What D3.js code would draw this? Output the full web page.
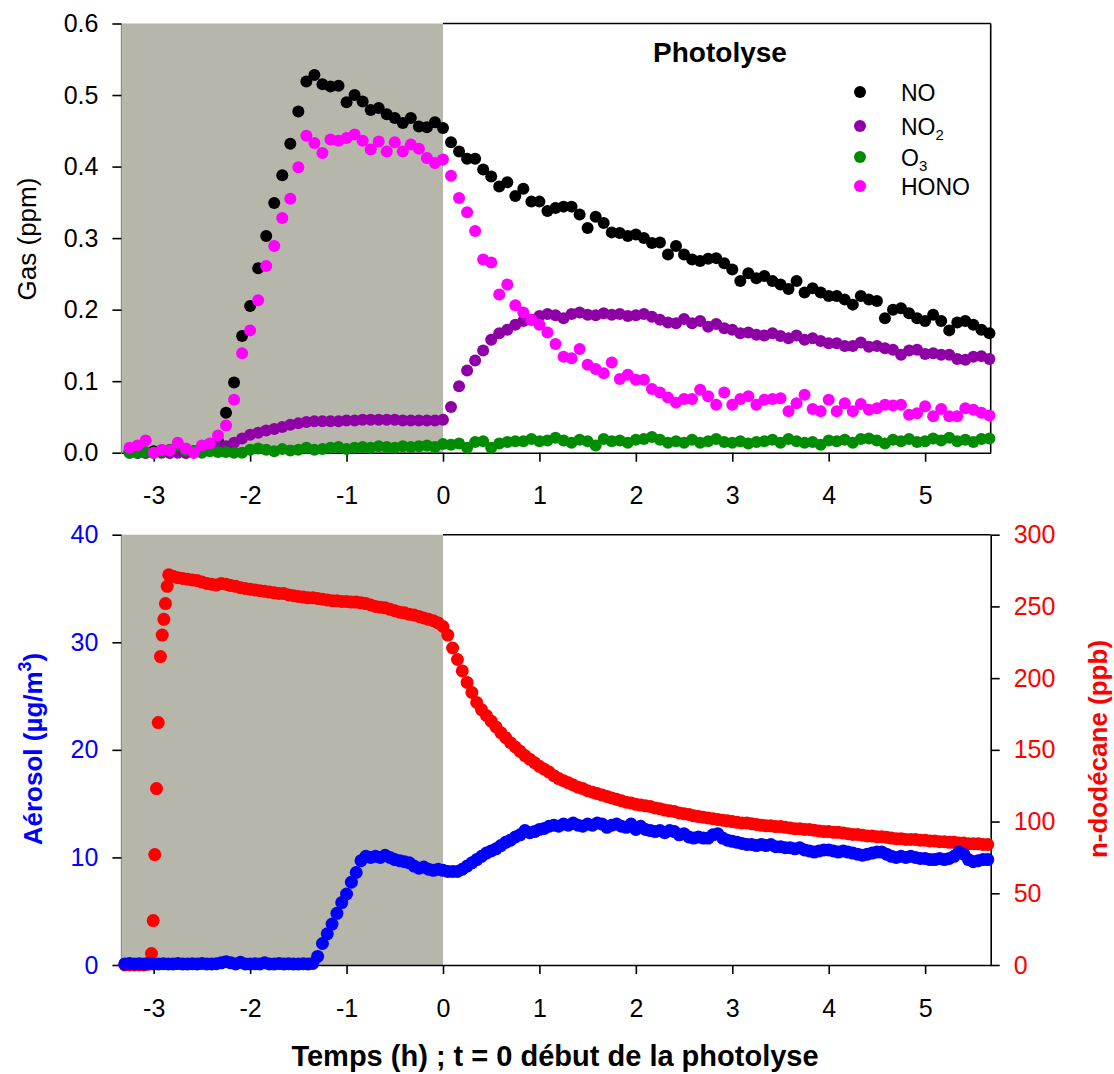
<!DOCTYPE html>
<html>
<head>
<meta charset="utf-8">
<script src="https://cdn.jsdelivr.net/npm/d3@7"></script>
<style>
  body { margin: 0; background: #fff; }
  text { font-family: "Liberation Sans", Arial, Helvetica, sans-serif; }
</style>
</head>
<body>
<svg id="chart" width="1114" height="1074"></svg>
<script>
// ---- gas data: one sample every 5 min, starting at t = -3.25 h ----
var gasStart = -39 / 12;
var gasStep = 1 / 12;

var noValues = [
  0.002, 0.0, 0.0, 0.002, 0.001, 0.0, 0.001, 0.0, 0.002, 0.003,
  0.005, 0.016, 0.056, 0.098, 0.163, 0.205, 0.258, 0.303, 0.349, 0.388,
  0.432, 0.477, 0.519, 0.528, 0.515, 0.512, 0.513, 0.490, 0.500, 0.491,
  0.479, 0.482, 0.473, 0.468, 0.461, 0.468, 0.456, 0.455, 0.462, 0.454,
  0.434, 0.421, 0.411, 0.411, 0.396, 0.386, 0.372, 0.378, 0.359, 0.369,
  0.351, 0.351, 0.338, 0.342, 0.344, 0.344, 0.333, 0.314, 0.330, 0.321,
  0.308, 0.307, 0.303, 0.305, 0.300, 0.293, 0.294, 0.277, 0.289, 0.277,
  0.270, 0.268, 0.271, 0.272, 0.265, 0.256, 0.240, 0.251, 0.244, 0.247,
  0.240, 0.235, 0.229, 0.240, 0.224, 0.230, 0.224, 0.219, 0.219, 0.214,
  0.207, 0.219, 0.214, 0.212, 0.188, 0.200, 0.202, 0.195, 0.188, 0.184,
  0.193, 0.184, 0.171, 0.182, 0.184, 0.179, 0.172, 0.167
];

var no2Values = [
  0.0, 0.0, 0.0, 0.0, 0.0, 0.0, 0.0, 0.0, 0.0, 0.001,
  0.003, 0.007, 0.009, 0.014, 0.020, 0.025, 0.028, 0.031, 0.033, 0.036,
  0.039, 0.041, 0.043, 0.044, 0.044, 0.044, 0.044, 0.045, 0.045, 0.046,
  0.046, 0.046, 0.046, 0.046, 0.045, 0.045, 0.045, 0.045, 0.045, 0.046,
  0.064, 0.093, 0.115, 0.129, 0.143, 0.158, 0.167, 0.172, 0.179, 0.184,
  0.186, 0.191, 0.194, 0.192, 0.188, 0.194, 0.196, 0.193, 0.192, 0.195,
  0.193, 0.194, 0.191, 0.192, 0.194, 0.190, 0.186, 0.182, 0.181, 0.187,
  0.181, 0.184, 0.176, 0.180, 0.174, 0.172, 0.167, 0.168, 0.165, 0.164,
  0.167, 0.163, 0.160, 0.164, 0.158, 0.160, 0.156, 0.153, 0.153, 0.149,
  0.149, 0.154, 0.148, 0.149, 0.146, 0.144, 0.137, 0.143, 0.144, 0.138,
  0.139, 0.137, 0.137, 0.131, 0.130, 0.134, 0.135, 0.131
];

var o3Values = [
  0.0, 0.0, 0.001, 0.0, 0.002, 0.004, 0.010, 0.003, 0.002, 0.0,
  0.002, 0.001, 0.001, 0.0, 0.0, 0.004, 0.006, 0.004, 0.002, 0.005,
  0.003, 0.004, 0.007, 0.004, 0.005, 0.007, 0.008, 0.005, 0.007, 0.008,
  0.007, 0.009, 0.008, 0.007, 0.009, 0.008, 0.009, 0.010, 0.008, 0.012,
  0.011, 0.013, 0.007, 0.015, 0.016, 0.007, 0.013, 0.015, 0.016, 0.016,
  0.019, 0.016, 0.017, 0.021, 0.017, 0.014, 0.018, 0.016, 0.010, 0.019,
  0.016, 0.017, 0.014, 0.018, 0.019, 0.022, 0.018, 0.014, 0.016, 0.014,
  0.018, 0.014, 0.016, 0.019, 0.015, 0.014, 0.016, 0.013, 0.015, 0.016,
  0.018, 0.014, 0.019, 0.016, 0.014, 0.015, 0.011, 0.017, 0.016, 0.018,
  0.014, 0.019, 0.020, 0.017, 0.013, 0.018, 0.016, 0.019, 0.015, 0.016,
  0.020, 0.017, 0.021, 0.016, 0.018, 0.015, 0.019, 0.020
];

var honoValues = [
  0.007, 0.010, 0.017, 0.0, 0.004, 0.003, 0.014, 0.006, 0.0, 0.010,
  0.013, 0.024, 0.038, 0.074, 0.139, 0.171, 0.213, 0.261, 0.289, 0.328,
  0.355, 0.399, 0.443, 0.433, 0.419, 0.438, 0.436, 0.440, 0.445, 0.436,
  0.424, 0.435, 0.421, 0.434, 0.421, 0.431, 0.425, 0.412, 0.405, 0.410,
  0.387, 0.356, 0.336, 0.310, 0.270, 0.266, 0.221, 0.235, 0.206, 0.196,
  0.186, 0.179, 0.168, 0.152, 0.134, 0.132, 0.145, 0.123, 0.117, 0.111,
  0.126, 0.103, 0.109, 0.102, 0.102, 0.089, 0.084, 0.077, 0.070, 0.075,
  0.075, 0.088, 0.079, 0.067, 0.084, 0.067, 0.075, 0.079, 0.067, 0.074,
  0.075, 0.076, 0.058, 0.069, 0.081, 0.061, 0.058, 0.074, 0.058, 0.069,
  0.058, 0.068, 0.060, 0.062, 0.067, 0.066, 0.067, 0.053, 0.055, 0.065,
  0.051, 0.061, 0.051, 0.051, 0.062, 0.060, 0.056, 0.052
];

var gasSeries = [
  {name: "NO", sub: "", values: noValues, color: "#000000"},
  {name: "NO", sub: "2", values: no2Values, color: "#8e00a6"},
  {name: "O", sub: "3", values: o3Values, color: "#008c00"},
  {name: "HONO", sub: "", values: honoValues, color: "#ff00ff"}
];

// ---- aerosol (µg/m3), one value every 3 min from t = -3.30 h ----
var aeroStart = -3.30;
var aeroStep = 0.05;
var aerosolValues = [
  0.1, 0.15, 0.1, 0.12, 0.1, 0.14, 0.1, 0.1, 0.12, 0.1,
  0.1, 0.13, 0.1, 0.1, 0.12, 0.1, 0.15, 0.1, 0.1, 0.12,
  0.2, 0.3, 0.2, 0.1, 0.25, 0.1, 0.1, 0.12, 0.1, 0.2,
  0.1, 0.1, 0.15, 0.1, 0.12, 0.1, 0.1, 0.12, 0.1, 0.15,
  0.8, 2.0, 2.9, 3.8, 4.8, 5.8, 6.6, 7.7, 8.6, 9.7,
  10.1, 10.0, 10.1, 10.0, 10.2, 10.0, 9.8, 9.7, 9.6, 9.5,
  9.2, 9.0, 9.1, 8.9, 8.8, 8.9, 8.8,
  8.7, 8.7, 8.7, 8.9, 9.2, 9.5, 9.8, 10.1, 10.4, 10.6,
  10.8, 11.1, 11.4, 11.6, 11.9, 12.1, 12.5, 12.3, 12.4, 12.6,
  12.7, 12.9, 13.0, 12.9, 13.1, 13.0, 13.2, 13.0, 12.9, 13.1,
  13.0, 13.2, 13.1, 12.8, 13.0, 13.1, 12.9, 12.8, 13.1, 12.6,
  12.9, 12.6, 12.5, 12.4, 12.5, 12.3, 12.5, 12.4, 12.1, 12.2,
  11.9, 11.8, 11.9, 11.8, 11.8, 12.1, 12.2, 11.8, 11.6, 11.5,
  11.4, 11.3, 11.2, 11.2, 11.1, 11.2, 11.1, 11.2, 11.0, 11.0,
  10.9, 10.9, 10.8, 10.9, 10.7, 10.6, 10.5, 10.6, 10.7, 10.7,
  10.6, 10.5, 10.6, 10.5, 10.4, 10.3, 10.2, 10.3, 10.4, 10.5,
  10.5, 10.3, 10.1, 10.0, 10.1, 10.0, 10.1, 10.0, 9.9, 9.9,
  9.8, 9.8, 9.9, 9.8, 9.9, 10.1, 10.5, 10.3, 9.8, 9.6,
  9.7, 9.8, 9.8
];

// ---- n-dodecane (ppb): injection samples, then one value every 3 min from t = -2.80 h ----
var dodecaneInjTimes = [-3.30, -3.25, -3.20, -3.15, -3.10, -3.06, -3.04, -3.023, -3.005,
  -2.989, -2.971, -2.953, -2.930, -2.912, -2.895, -2.878, -2.860, -2.844];
var dodecaneInjValues = [0, 0, 0, 0, 0, 0.5, 2, 8, 31, 77, 123, 169, 215, 230, 241, 252, 264, 272];

var dodecaneStart = -2.80;
var dodecaneStep = 0.05;
var dodecaneValues = [
  271, 270, 269.5, 269, 268.5, 268, 267, 266, 265.5, 265,
  266, 265.5, 264.5, 264, 263, 262.5, 262, 261.5, 261, 260.5,
  260, 259.5, 259, 259, 258, 257.5, 257, 256.5, 256, 256,
  255.5, 255, 254.5, 254, 254, 253.5, 253.5, 253, 253, 252.5,
  252, 251, 250, 249.5, 249, 248, 247, 246, 245.5, 244.5,
  244, 243, 242, 241, 240, 238.5, 236,
  230, 221, 213, 205, 197, 190, 183, 178, 174, 170,
  166, 162, 158.5, 155, 152, 149, 146, 143.5, 141, 138.5,
  136.5, 134.5, 132, 130, 128.5, 127, 125.5, 124, 123, 121.5,
  120.5, 119.5, 118.5, 117.5, 116.5, 115.5, 114.5, 113.5, 113, 112,
  111.5, 111, 110.5, 109.5, 109, 108, 107.5, 107, 106, 105.5,
  105, 104, 103.5, 103, 102.5, 102, 101.5, 101, 100.5, 100,
  99.5, 99, 99, 98.5, 98, 97.5, 97, 97, 96.5, 96.5,
  96, 95.5, 95, 95, 94.5, 94.5, 94, 93.5, 93, 93,
  92.5, 92.5, 92, 91.5, 91, 91, 90.5, 90, 90, 89.5,
  89.5, 89, 88.5, 88, 88, 87.5, 87.5, 87.5, 87, 87,
  86.5, 86.5, 86, 86, 85.5, 85.5, 85, 85, 84.5, 84.5,
  84.5, 84, 84
];

// ---- ticks ----
var timeTicks = [-3, -2, -1, 0, 1, 2, 3, 4, 5];
var gasTicks = [0, 0.1, 0.2, 0.3, 0.4, 0.5, 0.6];
var aeroTicks = [0, 10, 20, 30, 40];
var dodecaneTicks = [0, 50, 100, 150, 200, 250, 300];

var svg = d3.select("#chart");
var FONT = '"Liberation Sans", Arial, Helvetica, sans-serif';
var GRAY = "#b6b6aa";

var x = d3.scaleLinear().domain([-3.335, 5.68]).range([121.4, 990.7]);
var yGas = d3.scaleLinear().domain([0, 0.6]).range([452.7, 23.5]);
var yAero = d3.scaleLinear().domain([0, 40]).range([965, 534.7]);
var yDodec = d3.scaleLinear().domain([0, 300]).range([965, 534.7]);

// plain hyphen for negatives, like the original figure
var intFormat = function(d) { return String(d); };

function styleAxis(g, color) {
  g.attr("font-family", FONT).attr("font-size", 25);
  g.selectAll(".tick line").attr("stroke", "#000").attr("stroke-width", 1.6);
  g.selectAll(".tick text").attr("fill", color);
}

// frame, dark (pre-photolysis) zone and time axis of a panel
function drawPanel(yScale) {
  var yb = yScale.range()[0], yt = yScale.range()[1];
  var xl = x.range()[0], xr = x.range()[1];

  svg.append("line")
    .attr("x1", x(0)).attr("x2", xr).attr("y1", yt).attr("y2", yt)
    .attr("stroke", "#000").attr("stroke-width", 1.6);

  svg.append("rect")
    .attr("x", xl).attr("y", yt)
    .attr("width", x(0) - xl).attr("height", yb - yt)
    .attr("fill", GRAY);

  svg.append("line")
    .attr("x1", xl).attr("x2", xl).attr("y1", yt).attr("y2", yb)
    .attr("stroke", "#8e8e86").attr("stroke-width", 1.2);

  var xAxis = svg.append("g")
    .attr("transform", "translate(0," + yb + ")")
    .call(d3.axisBottom(x).tickValues(timeTicks).tickFormat(intFormat)
      .tickSize(9).tickSizeOuter(0).tickPadding(25));
  xAxis.select(".domain").attr("stroke", "#000").attr("stroke-width", 1.6);
  styleAxis(xAxis, "#000");
}

function drawDots(times, values, yScale, color, r) {
  svg.append("g")
    .selectAll("circle")
    .data(values)
    .join("circle")
    .attr("cx", function(d, i) { return x(times[i]); })
    .attr("cy", function(d) { return yScale(d); })
    .attr("r", r)
    .attr("fill", color);
}

function gridTimes(start, step, n) {
  return d3.range(n).map(function(i) { return start + i * step; });
}

// ===== top panel: gases =====
drawPanel(yGas);

svg.append("line")
  .attr("x1", x.range()[1]).attr("x2", x.range()[1])
  .attr("y1", yGas.range()[1]).attr("y2", yGas.range()[0])
  .attr("stroke", "#000").attr("stroke-width", 1.6);

var gasAxis = svg.append("g")
  .attr("transform", "translate(" + x.range()[0] + ",0)")
  .call(d3.axisLeft(yGas).tickValues(gasTicks).tickFormat(d3.format(".1f"))
    .tickSize(9).tickSizeOuter(0).tickPadding(14));
gasAxis.select(".domain").remove();
styleAxis(gasAxis, "#000");

gasSeries.forEach(function(s) {
  drawDots(gridTimes(gasStart, gasStep, s.values.length), s.values, yGas, s.color, 6);
});

svg.append("text")
  .attr("x", 720).attr("y", 62)
  .attr("text-anchor", "middle")
  .attr("font-size", 28).attr("font-weight", "bold")
  .text("Photolyse");

var legendY = [92, 126, 157, 186];
var legend = svg.append("g").attr("font-size", 23);
gasSeries.forEach(function(s, i) {
  legend.append("circle")
    .attr("cx", 860).attr("cy", legendY[i]).attr("r", 6)
    .attr("fill", s.color);
  var t = legend.append("text")
    .attr("x", 901).attr("y", legendY[i] + 8.5)
    .text(s.name);
  if (s.sub) {
    t.append("tspan").attr("font-size", 15).attr("dy", 5).text(s.sub);
  }
});

svg.append("text")
  .attr("transform", "translate(36,239) rotate(-90)")
  .attr("text-anchor", "middle")
  .attr("font-size", 26)
  .text("Gas (ppm)");

// ===== bottom panel: aerosol and n-dodecane =====
drawPanel(yAero);

var aeroAxis = svg.append("g")
  .attr("transform", "translate(" + x.range()[0] + ",0)")
  .call(d3.axisLeft(yAero).tickValues(aeroTicks).tickFormat(intFormat)
    .tickSize(9).tickSizeOuter(0).tickPadding(14));
aeroAxis.select(".domain").remove();
styleAxis(aeroAxis, "#0000ff");

var dodecAxis = svg.append("g")
  .attr("transform", "translate(" + x.range()[1] + ",0)")
  .call(d3.axisRight(yDodec).tickValues(dodecaneTicks).tickFormat(intFormat)
    .tickSize(9).tickSizeOuter(0).tickPadding(14));
dodecAxis.select(".domain").attr("stroke", "#000").attr("stroke-width", 1.6);
styleAxis(dodecAxis, "#ff0000");

drawDots(dodecaneInjTimes, dodecaneInjValues, yDodec, "#ff0000", 6.5);
drawDots(gridTimes(dodecaneStart, dodecaneStep, dodecaneValues.length), dodecaneValues, yDodec, "#ff0000", 6.5);
drawDots(gridTimes(aeroStart, aeroStep, aerosolValues.length), aerosolValues, yAero, "#0000ff", 6.5);

var aeroTitle = svg.append("text")
  .attr("transform", "translate(42,749) rotate(-90)")
  .attr("text-anchor", "middle")
  .attr("font-size", 26).attr("font-weight", "bold")
  .attr("fill", "#0000ff");
aeroTitle.append("tspan").text("Aérosol (µg/m");
aeroTitle.append("tspan").attr("font-size", 18).attr("dy", -11).text("3");
aeroTitle.append("tspan").attr("dy", 11).text(")");

svg.append("text")
  .attr("transform", "translate(1107,749) rotate(-90)")
  .attr("text-anchor", "middle")
  .attr("font-size", 26).attr("font-weight", "bold")
  .attr("fill", "#ff0000")
  .text("n-dodécane (ppb)");

svg.append("text")
  .attr("x", 555).attr("y", 1066)
  .attr("text-anchor", "middle")
  .attr("font-size", 29).attr("font-weight", "bold")
  .text("Temps (h) ; t = 0 début de la photolyse");
</script>
</body>
</html>
